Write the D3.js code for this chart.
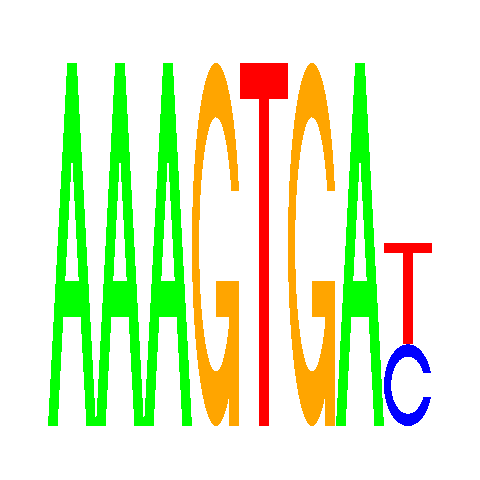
<!DOCTYPE html>
<html>
<head>
<meta charset="utf-8">
<script src="https://cdn.jsdelivr.net/npm/d3@7"></script>
<style>
  html, body { margin: 0; padding: 0; background: #fff; }
</style>
</head>
<body>
<div class="canva"></div>
<script>
const positions = ["1", "2", "3", "4", "5", "6", "7", "8"];
// letter heights in bits, one value per position
const heightA = [2, 2, 2, 0, 0, 0, 2, 0];
const heightC = [0, 0, 0, 0, 0, 0, 0, 0.45];
const heightG = [0, 0, 0, 2, 0, 2, 0, 0];
const heightT = [0, 0, 0, 0, 2, 0, 0, 0.56];

const letterColors = { A: "#00ff00", C: "#0000ff", G: "#ffa500", T: "#ff0000" };

const width = 480, height = 480;

const svg = d3.select(".canva").append("svg")
    .attr("width", width)
    .attr("height", height);

const x = d3.scaleBand().domain(positions).range([48, 432]).padding(0);
const y = d3.scaleLinear().domain([0, 2]).range([426, 63]);

// letter outlines in a unit box (x 0..1 left to right, y 0..1 bottom to top)
function seq(a, b, n) {
    return d3.range(n).map(i => a + (b - a) * i / (n - 1));
}

function roundRing() {
    const a1 = seq(0.3 + Math.PI / 2, Math.PI, 100);
    const a2 = seq(Math.PI, 1.5 * Math.PI, 100);
    const xl = a1.concat(a2).map(a => 0.5 + 0.5 * Math.sin(a));
    const yl = a1.concat(a2).map(a => 0.5 + 0.5 * Math.cos(a));
    const hMax = d3.max(a1, a => 0.5 + 0.5 * Math.cos(a));
    const outer = xl.map((v, i) => [v, yl[i]])
        .concat(xl.slice().reverse().map((v, i) => [v, 1 - yl.slice().reverse()[i]]));

    let in1 = a1.map(a => [0.5 + 0.35 * Math.sin(a), 0.5 + 0.35 * Math.cos(a)])
        .filter(p => p[1] <= hMax);
    in1[0] = [in1[0][0], hMax];
    const in2 = a2.map(a => [0.5 + 0.35 * Math.sin(a), 0.5 + 0.35 * Math.cos(a)]);
    const inner = in1.concat(in2);
    const innerFull = inner.concat(inner.slice().reverse().map(p => [p[0], 1 - p[1]]));
    return { ring: outer.concat(innerFull.reverse()), r1: d3.max(a1, a => 0.5 + 0.5 * Math.sin(a)) };
}

const unit = pts => pts.map(p => [p[0] / 10, p[1] / 10]);

// each letter = list of parts, each part = list of rings (drawn as one path)
const shapes = {
    A: [[
        unit([[0, 0], [4, 10], [6, 10], [10, 0], [8, 0], [6.8, 3], [3.2, 3], [2, 0], [0, 0]]),
        unit([[3.6, 4], [5, 7.5], [6.4, 4], [3.6, 4]])
    ]],
    T: [[
        unit([[0, 10], [10, 10], [10, 9], [6, 9], [6, 0], [4, 0], [4, 9], [0, 9]])
    ]],
    C: [[roundRing().ring]],
    G: (() => {
        const r = roundRing();
        const h1 = 0.4, r1 = r.r1;
        const bar = [[r1, h1], [0.5, h1], [0.5, h1 - 0.1], [r1 - 0.2, h1 - 0.1], [r1 - 0.2, 0], [r1, 0], [r1, h1]];
        return [[r.ring], [bar]];
    })()
};

// build stacks: smallest letter at the bottom
const columns = positions.map((p, i) => {
    const items = [
        { letter: "A", h: heightA[i] },
        { letter: "C", h: heightC[i] },
        { letter: "G", h: heightG[i] },
        { letter: "T", h: heightT[i] }
    ].filter(d => d.h > 0).sort((a, b) => a.h - b.h);
    let base = 0;
    items.forEach(d => { d.y0 = base; base += d.h; d.y1 = base; d.pos = p; });
    return items;
});

const parts = columns.flat().flatMap(d =>
    shapes[d.letter].map(rings => Object.assign({ rings }, d)));

function partPath(d) {
    const x0 = x(d.pos), w = x.bandwidth();
    const yb = y(d.y0), h = y(d.y0) - y(d.y1);
    const line = d3.line()
        .x(p => x0 + w * p[0])
        .y(p => yb - h * p[1]);
    return d.rings.map(ring => line(ring) + "Z").join("");
}

svg.selectAll("path.letter")
    .data(parts)
    .enter()
    .append("path")
    .attr("class", "letter")
    .attr("d", partPath)
    .attr("fill", d => letterColors[d.letter])
    .attr("fill-rule", "evenodd")
    .attr("shape-rendering", "crispEdges");
</script>
</body>
</html>
